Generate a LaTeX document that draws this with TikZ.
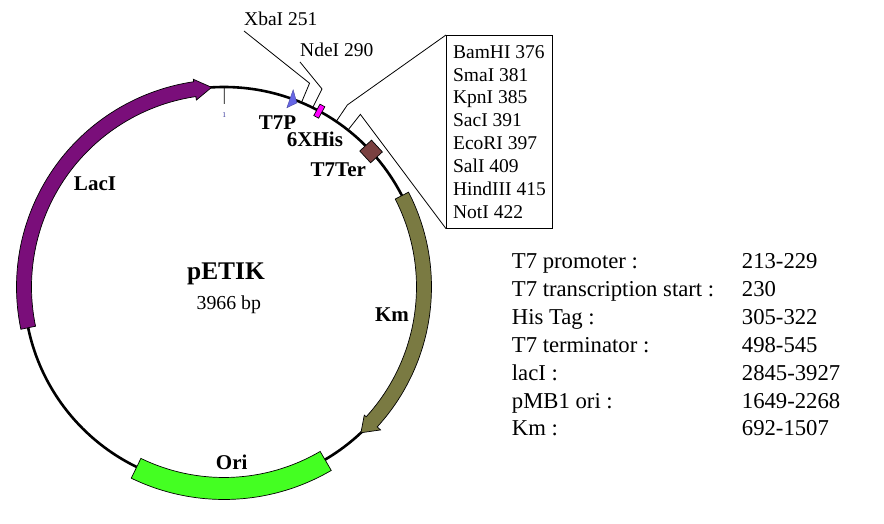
\documentclass[tikz,border=0pt]{standalone}
\usepackage{fontspec}
\setmainfont{Liberation Serif}
\definecolor{laci}{RGB}{122,14,122}
\definecolor{km}{RGB}{122,122,66}
\definecolor{ori}{RGB}{68,255,34}
\definecolor{his}{RGB}{255,0,255}
\definecolor{tter}{RGB}{122,64,64}
\definecolor{tsevenp}{RGB}{102,102,230}
\definecolor{tickblue}{RGB}{51,51,153}
\begin{document}
\begin{tikzpicture}[x=1pt,y=1pt,>=stealth,
	feat/.style={draw=black,line width=0.7pt},
	gene/.style={font=\bfseries\fontsize{21}{24}\selectfont,inner sep=0pt,anchor=base},
	sitelbl/.style={font=\fontsize{19.5}{22.86}\selectfont,anchor=south west,inner xsep=0pt,inner ysep=5pt},
	tabtxt/.style={font=\fontsize{22.7}{27}\selectfont,anchor=base west,inner sep=0pt},
	leader/.style={line width=0.8pt}]
			\useasboundingbox (-224,-237) rectangle (660,287);
			% backbone
			\draw[line width=2.6pt] (0,0) circle (200);
			\draw[line width=0.8pt] (89.91:200)--(89.91:183);
			\node[text=tickblue,font=\fontsize{7.5}{8}\selectfont,inner sep=0pt] (one) at (89.91:171.5) {1};
			% features
			\draw[feat,fill=laci] (191.76:207.5) arc[start angle=191.76,end angle=98.4,radius=207.5]--(98.4:210)--(93.54:200)--(98.4:189)--(98.4:192.5) arc[start angle=98.4,end angle=191.76,radius=192.5]--cycle;
			\draw[feat,fill=km] (27.19:207.5) arc[start angle=27.19,end angle=-42.4,radius=207.5]--(-42.4:212)--(-46.79:200)--(-42.4:190)--(-42.4:192.5) arc[start angle=-42.4,end angle=27.19,radius=192.5]--cycle;
			\draw[feat,fill=ori] (-59.68:212.5) arc[start angle=-59.68,end angle=-115.87,radius=212.5]--(-115.87:190.5) arc[start angle=-115.87,end angle=-59.68,radius=190.5]--cycle;
			\draw[draw=tsevenp!70!black,line width=0.4pt,fill=tsevenp] (70.67:209)--(68.4:198)--(70.67:190)--cycle;
			\node[feat,fill=his,minimum width=13pt,minimum height=5.5pt,inner sep=0pt,rotate=61.54] (histag) at (61.54:200) {};
			\node[feat,fill=tter,minimum size=16pt,inner sep=0pt,rotate=42.66] (term) at (42.66:200) {};
			% labels
			\node[font=\bfseries\fontsize{25.4}{28}\selectfont,inner sep=0pt,anchor=base] (name) at (2,7) {pETIK};
			\node[font=\fontsize{19.8}{22}\selectfont,inner sep=0pt,anchor=base] (size) at (4.8,-22.3) {3966 bp};
			\node[gene] (laciname) at (-129,96.3) {LacI};
			\node[gene] (kmname) at (168,-34.7) {Km};
			\node[gene] (oriname) at (7.7,-182.3) {Ori};
			\node[gene] (tpname) at (53.5,157) {T7P};
			\node[gene] (hisname) at (91,140.3) {6XHis};
			\node[gene] (tername) at (114.3,110.3) {T7Ter};
			% restriction sites
			\coordinate (xba0) at (67.22:200);
			\coordinate (xba1) at (67.22:221);
			\node[sitelbl] (xba) at (20,256) {XbaI 251};
			\draw[leader] (xba0)--(xba1)--(xba.south west);
			\coordinate (nde0) at (63.68:200);
			\coordinate (nde1) at (63.68:221);
			\node[sitelbl] (nde) at (76,225) {NdeI 290};
			\draw[leader] (nde0)--(nde1)--(nde.south west);
			\node[draw,line width=0.9pt,anchor=north west,align=left,font=\fontsize{19.5}{22.86}\selectfont,inner xsep=6.7pt,inner ysep=9.8pt,minimum width=105pt] (mcs) at (222,252) {BamHI 376\\SmaI 381\\KpnI 385\\SacI 391\\EcoRI 397\\SalI 409\\HindIII 415\\NotI 422};
			\coordinate (bam0) at (55.87:200);
			\coordinate (bam1) at (55.87:220);
			\coordinate (not0) at (51.69:200);
			\coordinate (not1) at (51.69:220);
			\draw[leader] (bam0)--(bam1)--(mcs.north west);
			\draw[leader] (not0)--(not1)--(mcs.south west);
			% table
			\foreach \k/\v [count=\i from 0] in {T7 promoter :/213-229,T7 transcription start :/230,His Tag :/305-322,T7 terminator :/498-545,lacI :/2845-3927,pMB1 ori :/1649-2268,Km :/692-1507}
			{
				\node[tabtxt] (key\i) at (287.7,{18.7-27.95*\i}) {\k};
				\node[tabtxt] (val\i) at (517.7,{18.7-27.95*\i}) {\v};
			}
\end{tikzpicture}
\end{document}
